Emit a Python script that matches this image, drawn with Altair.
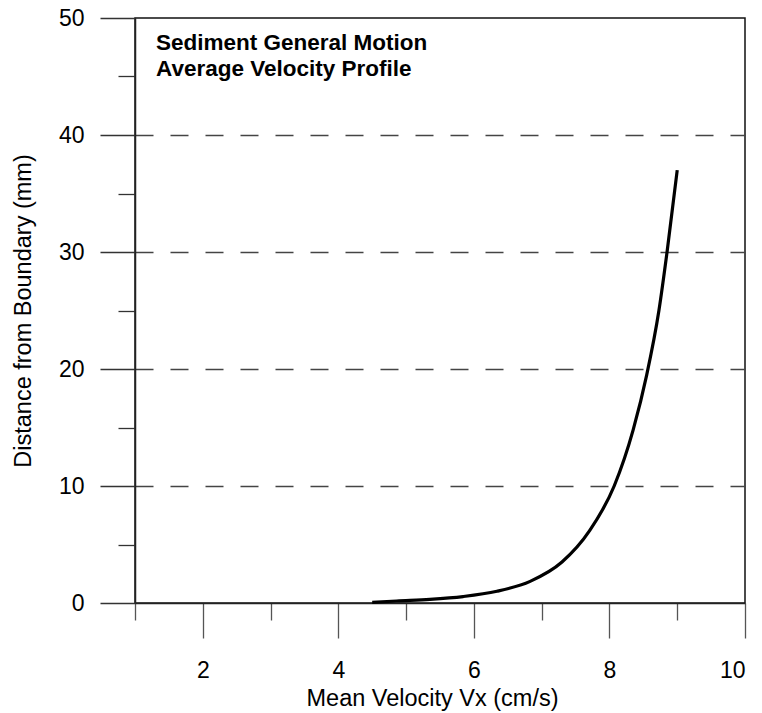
import altair as alt
import pandas as pd

# Curve
velocity = [4.50, 4.86, 5.35, 5.84, 6.34, 6.83, 7.30, 7.71, 8.07, 8.35, 8.55, 8.73, 8.85, 9.00]
distance = [0.05, 0.17, 0.31, 0.55, 1.00, 1.85, 3.50, 6.20, 10.0, 14.8, 19.5, 25.0, 30.0, 37.0]

x_major = [2, 4, 6, 8, 10]
x_minor = [1, 3, 5, 7, 9]
y_major = [0, 10, 20, 30, 40, 50]
y_minor = [5, 15, 25, 35, 45]

note_lines = "Sediment General Motion\nAverage Velocity Profile"
x_title = "Mean Velocity Vx (cm/s)"
y_title = "Distance from Boundary (mm)"

df = pd.DataFrame({"i": list(range(len(velocity))), "v": velocity, "d": distance})

FONT = "Liberation Sans"
xs = alt.Scale(domain=[1, 10], nice=False, zero=False)
ys = alt.Scale(domain=[0, 50], nice=False, zero=False)

x_axis_major = alt.Axis(
    orient="bottom", values=x_major, tickSize=35, tickColor="#555", tickWidth=1.3,
    domainColor="#222", domainWidth=1.5, labelFont=FONT, labelFontSize=23,
    labelColor="black", labelPadding=21, grid=False, title=x_title,
    titleFont=FONT, titleFontSize=23.5, titleFontWeight="normal", titleColor="black",
    titleX=297, titleY=83, titleAlign="center", titleBaseline="top",
)
y_axis_major = alt.Axis(
    orient="left", values=y_major, tickSize=35, tickColor="#333", tickWidth=1.3,
    domainColor="#222", domainWidth=1.5, labelFont=FONT, labelFontSize=23,
    labelColor="black", labelPadding=16, grid=True, gridColor="#444", gridWidth=1.3,
    gridDash=[18, 17],
    gridOpacity={"condition": {"test": "datum.value > 0 && datum.value < 50", "value": 1}, "value": 0},
    title=y_title, titleFont=FONT, titleFontSize=23.5, titleFontWeight="normal",
    titleColor="black", titleX=-100, titleBaseline="bottom", titleAngle=270,
)
x_axis_minor = alt.Axis(
    orient="bottom", values=x_minor, tickSize=17, tickColor="#555", tickWidth=1.3,
    domain=False, labels=False, grid=False, title=None,
)
y_axis_minor = alt.Axis(
    orient="left", values=y_minor, tickSize=17, tickColor="#333", tickWidth=1.3,
    domain=False, labels=False, grid=False, title=None,
)

minor = alt.Chart(df).mark_point(opacity=0).encode(
    x=alt.X("v:Q", scale=xs, axis=x_axis_minor),
    y=alt.Y("d:Q", scale=ys, axis=y_axis_minor),
)

curve = alt.Chart(df).mark_line(color="black", strokeWidth=3.2, interpolate="monotone").encode(
    x=alt.X("v:Q", scale=xs, axis=x_axis_major),
    y=alt.Y("d:Q", scale=ys, axis=y_axis_major),
    order="i:O",
)

note = alt.Chart(pd.DataFrame({"t": [note_lines]})).mark_text(
    align="left", baseline="alphabetic", font=FONT, fontSize=22.5, fontWeight="bold",
    color="black", lineBreak="\n", lineHeight=26,
).encode(text="t:N", x=alt.value(21), y=alt.value(32))

chart = alt.layer(minor, curve, note).resolve_scale(
    x="independent", y="independent"
).properties(
    width=610, height=585,
    autosize=alt.AutoSizeParams(type="none"),
    padding={"left": 135, "top": 18, "right": 17, "bottom": 110},
).configure_view(stroke="#111", strokeWidth=1.5)

chart.save("out.html", embed_options={"renderer": "svg", "actions": False})
